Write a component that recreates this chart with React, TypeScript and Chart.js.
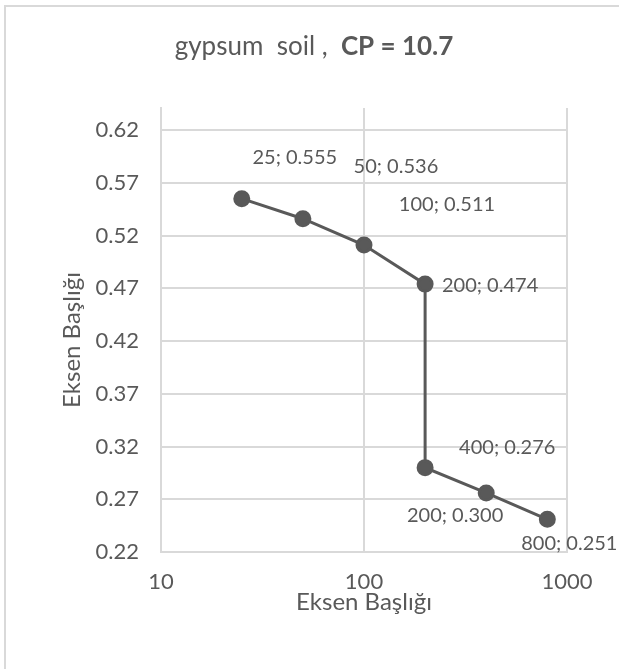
import React, { useEffect, useRef } from "react";
import { Chart, registerables } from "chart.js";

Chart.register(...registerables);

const xValues = [25, 50, 100, 200, 200, 400, 800];
const yValues = [0.555, 0.536, 0.511, 0.474, 0.3, 0.276, 0.251];
const yLabelText = ["0.555", "0.536", "0.511", "0.474", "0.300", "0.276", "0.251"];
const xTickValues = [10, 100, 1000];
const yTickValues = [0.22, 0.27, 0.32, 0.37, 0.42, 0.47, 0.52, 0.57, 0.62];
const titleNormal = "gypsum  soil ,  ";
const titleBold = "CP = 10.7";
const xAxisTitle = "Eksen Başlığı";
const yAxisTitle = "Eksen Başlığı";

// label offsets (pixels) relative to each point, style only
const labelOffsets = [
  [53, -41],
  [93, -52],
  [83, -41],
  [65, 1],
  [30, 48],
  [21, -45],
  [22, 24],
];

const TEXT = "#595959";
const GRID = "#d9d9d9";
const FONT = "Lato, 'Liberation Sans', sans-serif";

export default function App() {
  const ref = useRef<HTMLCanvasElement | null>(null);
  useEffect(() => {
    if (!ref.current) return;
    const data = xValues.map((x, i) => ({ x, y: yValues[i] }));
    const deco = {
      id: "deco",
      afterDraw(chart: any) {
        const ctx = chart.ctx;
        const xs = chart.scales.x;
        const ys = chart.scales.y;
        const ca = chart.chartArea;
        ctx.save();
        // outer border
        ctx.strokeStyle = GRID;
        ctx.lineWidth = 2;
        ctx.beginPath();
        ctx.moveTo(5, 669);
        ctx.lineTo(5, 6);
        ctx.lineTo(619, 6);
        ctx.stroke();
        // title
        ctx.fillStyle = TEXT;
        ctx.textBaseline = "middle";
        ctx.font = `26px ${FONT}`;
        const w1 = ctx.measureText(titleNormal).width;
        ctx.font = `bold 26px ${FONT}`;
        const w2 = ctx.measureText(titleBold).width;
        const start = 314 - (w1 + w2) / 2;
        ctx.textAlign = "left";
        ctx.font = `26px ${FONT}`;
        ctx.fillText(titleNormal, start, 47);
        ctx.font = `bold 26px ${FONT}`;
        ctx.fillText(titleBold, start + w1, 47);
        // axis titles
        ctx.font = `24px ${FONT}`;
        ctx.textAlign = "center";
        ctx.fillText(xAxisTitle, (ca.left + ca.right) / 2, 602);
        ctx.save();
        ctx.translate(72, (ca.top + ca.bottom) / 2 + 10);
        ctx.rotate(-Math.PI / 2);
        ctx.fillText(yAxisTitle, 0, 0);
        ctx.restore();
        // data labels
        ctx.font = `20px ${FONT}`;
        xValues.forEach((x, i) => {
          const px = xs.getPixelForValue(x);
          const py = ys.getPixelForValue(yValues[i]);
          ctx.fillText(`${x}; ${yLabelText[i]}`, px + labelOffsets[i][0], py + labelOffsets[i][1]);
        });
        ctx.restore();
      },
    };
    const chart = new Chart(ref.current, {
      type: "scatter",
      data: {
        datasets: [
          {
            data,
            showLine: true,
            borderColor: TEXT,
            backgroundColor: TEXT,
            borderWidth: 3,
            pointRadius: 7,
            pointBackgroundColor: TEXT,
            pointBorderColor: TEXT,
          },
        ],
      },
      options: {
        animation: false,
        responsive: true,
        maintainAspectRatio: false,
        layout: { padding: { top: 108, right: 52, left: 0, bottom: 0 } },
        plugins: { legend: { display: false }, tooltip: { enabled: false }, title: { display: false } },
        scales: {
          x: {
            type: "logarithmic",
            min: 10,
            max: 1000,
            afterBuildTicks: (s: any) => {
              s.ticks = xTickValues.map((v) => ({ value: v }));
            },
            afterFit: (s: any) => {
              s.height = 117;
            },
            ticks: {
              color: TEXT,
              font: { family: FONT, size: 22 },
              padding: 17,
              maxRotation: 0,
              autoSkip: false,
              callback: (v: any) => String(v),
            },
            grid: { color: GRID, lineWidth: 2, drawTicks: false },
            border: { color: GRID, width: 2 },
          },
          y: {
            min: 0.22,
            max: 0.641,
            afterBuildTicks: (s: any) => {
              s.ticks = yTickValues.map((v) => ({ value: v }));
            },
            afterFit: (s: any) => {
              s.width = 161;
            },
            ticks: {
              color: TEXT,
              font: { family: FONT, size: 22 },
              padding: 22,
              autoSkip: false,
              callback: (v: any) => Number(v).toFixed(2),
            },
            grid: { color: GRID, lineWidth: 2, drawTicks: false },
            border: { color: GRID, width: 2 },
          },
        },
      },
      plugins: [deco],
    });
    return () => chart.destroy();
  }, []);
  return (
    <div style={{ position: "absolute", left: 0, top: 0, width: 619, height: 669, background: "#fff" }}>
      <canvas ref={ref} />
    </div>
  );
}
